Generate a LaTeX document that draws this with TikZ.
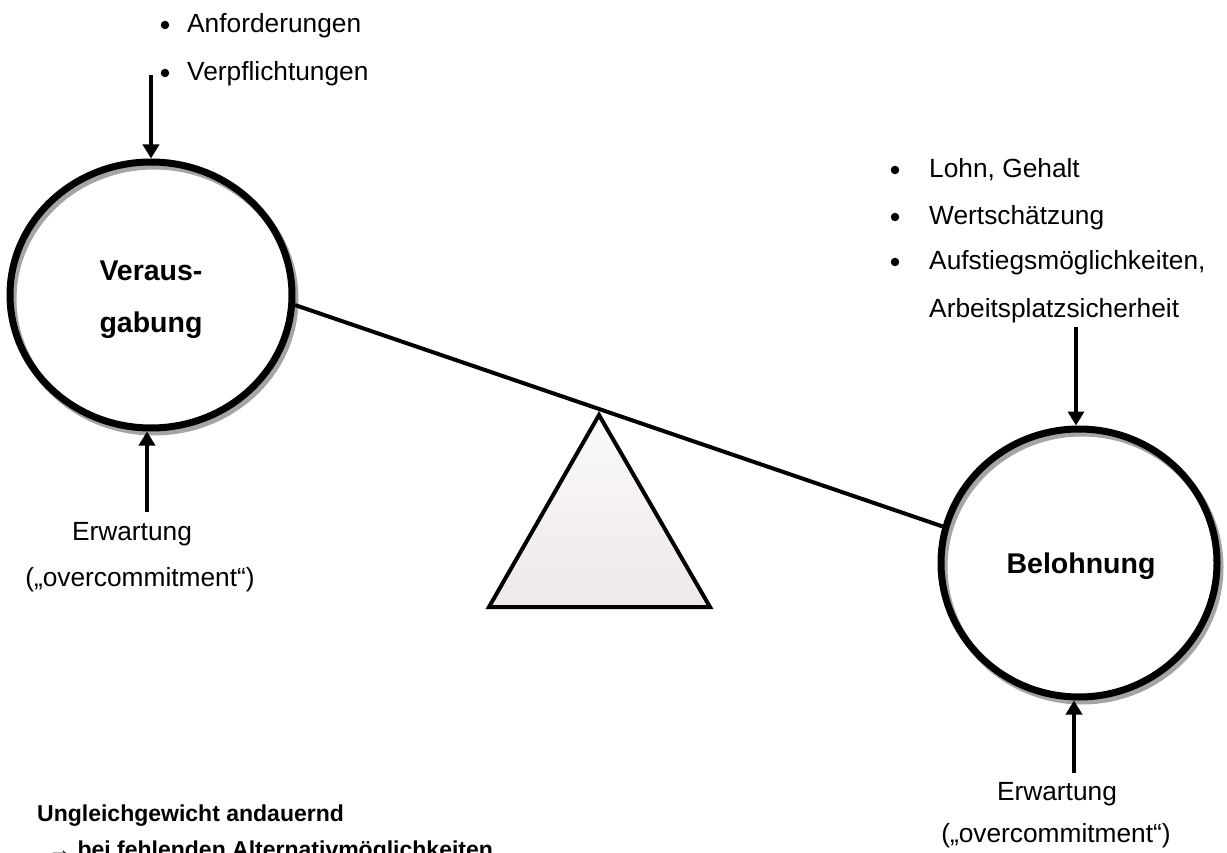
\documentclass[tikz,border=0pt]{standalone}
\usepackage{fontspec}
\setmainfont{Liberation Sans}
\usetikzlibrary{shapes.geometric,arrows.meta}
\definecolor{shadowgray}{RGB}{165,165,165}
\definecolor{tritop}{RGB}{251,249,249}
\definecolor{tribot}{RGB}{238,232,232}
\begin{document}
\begin{tikzpicture}[x=1pt,y=-1pt,
  reg/.style={font=\fontsize{26.3}{31}\selectfont, inner sep=0pt},
  bld/.style={font=\fontsize{28.5}{34}\selectfont\bfseries, inner sep=0pt},
  btm/.style={font=\fontsize{23}{28}\selectfont\bfseries, inner sep=0pt},
  ring/.style={ellipse, draw=black, line width=7pt, inner sep=0pt},
  ringshadow/.style={draw=shadowgray, line width=7pt},
  arr/.style={line width=3.5pt, -{Triangle[width=16pt,length=14pt]}},
  dot/.style={circle, fill=black, inner sep=0pt, minimum size=8.5pt},
  beam/.style={line width=4pt},
]
\clip (0,0) rectangle (1227,853);
% shadows
\draw[ringshadow] (154,299) ellipse [x radius=141, y radius=133];
\draw[ringshadow] (1082,567) ellipse [x radius=138, y radius=134];
% rings
\node[ring, minimum width=282pt, minimum height=266pt] (V) at (151,295) {};
\node[ring, minimum width=276pt, minimum height=268pt] (B) at (1079,563) {};
% fulcrum
\path[draw=black, line width=4pt, top color=tritop, bottom color=tribot]
  (599,415) -- (489,607) -- (710,607) -- cycle;
% beam
\draw[beam] (V.-4) -- (B.165);
% circle labels
\node[bld, anchor=base] (vt1) at (151,280) {Veraus-};
\node[bld, anchor=base] (vt2) at (151,333) {gabung};
\node[bld, anchor=base] (bt) at (1081,573) {Belohnung};
% top-left list
\node[dot] (d1) at (165,25) {};
\node[reg, anchor=base west] (l1) at (187,33) {Anforderungen};
\node[dot] (d2) at (165,73) {};
\node[reg, anchor=base west] (l2) at (187,81) {Verpflichtungen};
% top-right list
\node[dot] (d3) at (895,170) {};
\node[reg, anchor=base west] (r1) at (929,178) {Lohn, Gehalt};
\node[dot] (d4) at (895,217) {};
\node[reg, anchor=base west] (r2) at (929,225) {Wertschätzung};
\node[dot] (d5) at (895,262) {};
\node[reg, anchor=base west] (r3) at (929,270) {Aufstiegsmöglichkeiten,};
\node[reg, anchor=base west] (r4) at (929,317) {Arbeitsplatzsicherheit};
% expectation labels
\node[reg, anchor=base] (e1) at (132,540) {Erwartung};
\node[reg, anchor=base] (o1) at (140,586) {(„overcommitment“)};
\node[reg, anchor=base] (e2) at (1057,800) {Erwartung};
\node[reg, anchor=base] (o2) at (1056,842) {(„overcommitment“)};
% arrows
\coordinate (a1) at (151,75);
\draw[arr] (a1) -- (a1 |- V.north);
\coordinate (a2) at (147,512);
\draw[arr] (a2) -- (a2 |- V.south);
\coordinate (a3) at (1076,327);
\draw[arr] (a3) -- (a3 |- B.north);
\coordinate (a4) at (1074,773);
\draw[arr] (a4) -- (a4 |- B.south);
% bottom text
\node[btm, anchor=base west] (u1) at (37,821) {Ungleichgewicht andauernd};
\node[btm, anchor=base west] (u2) at (48,857) {→ bei fehlenden Alternativmöglichkeiten};
\end{tikzpicture}
\end{document}
